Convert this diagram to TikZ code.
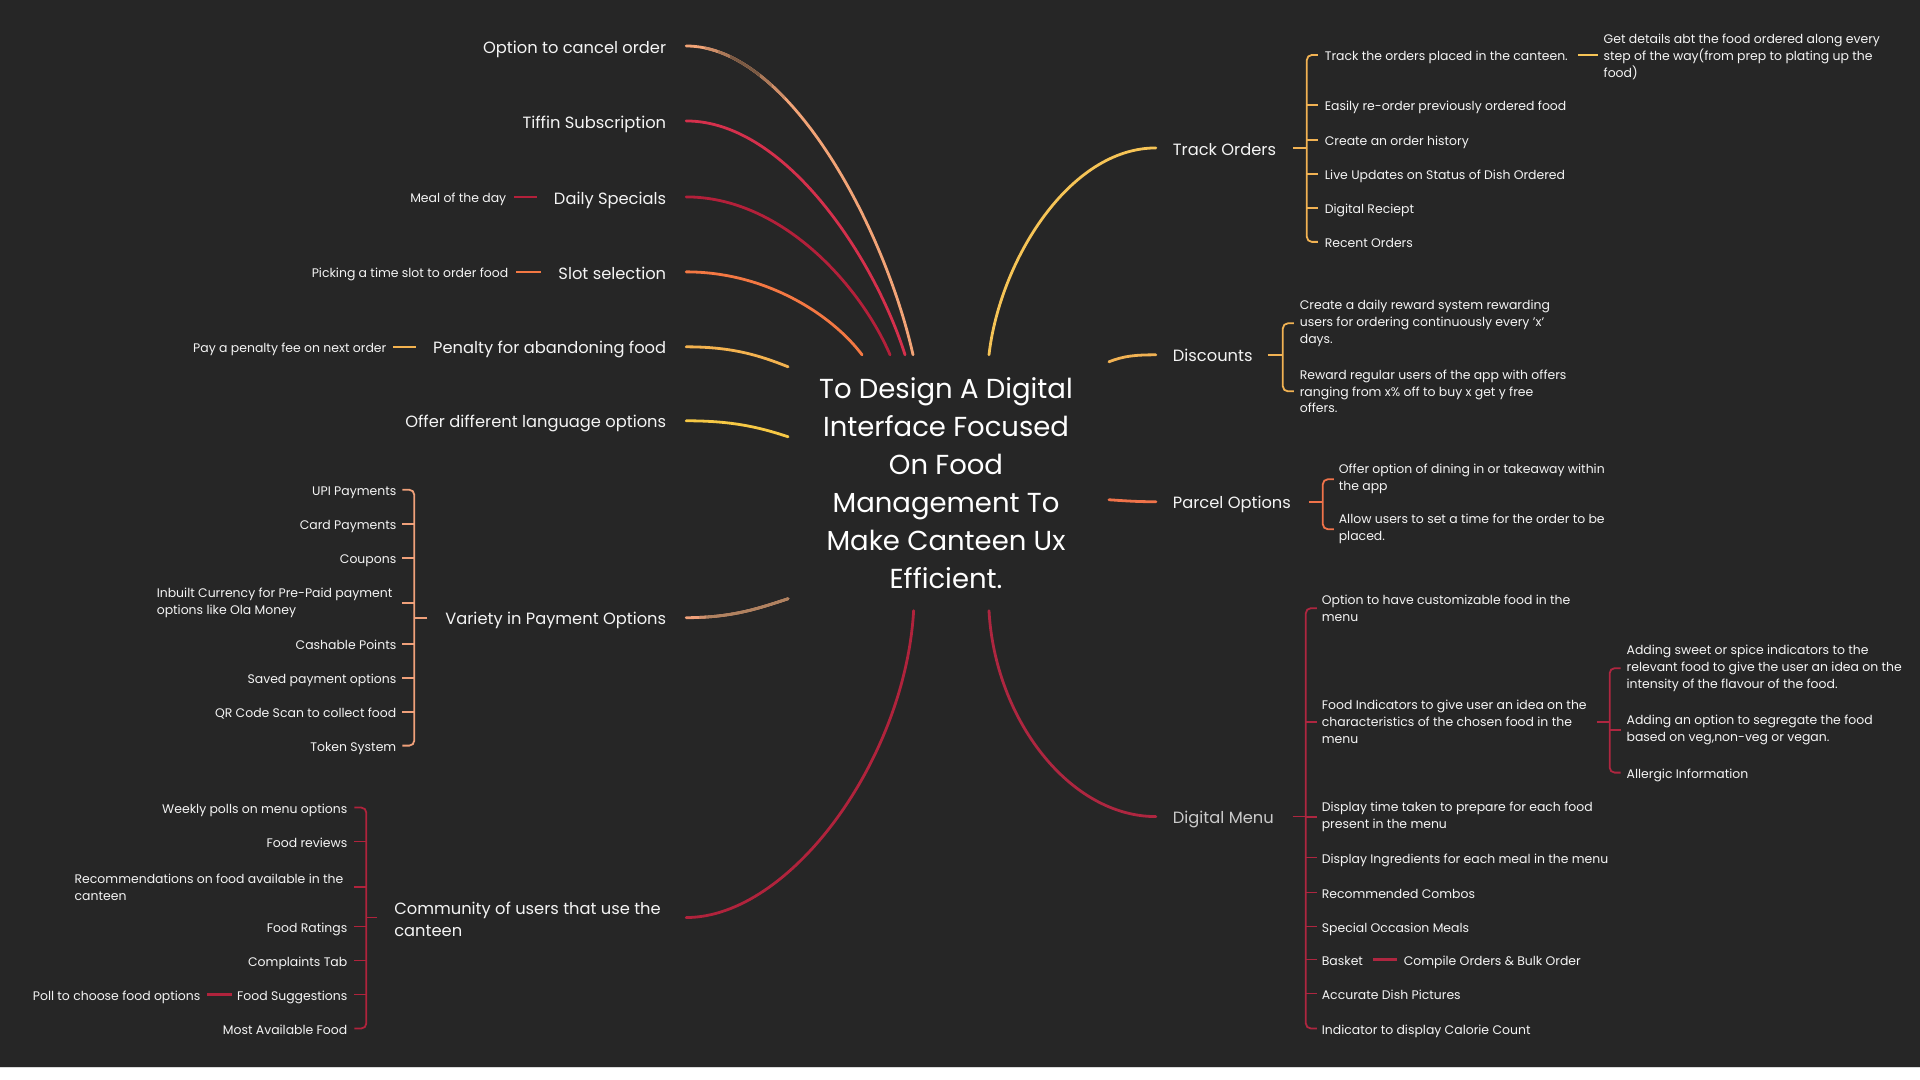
\documentclass[tikz,border=0pt]{standalone}
\usepackage{fontspec}
\setmainfont{Poppins}
\usetikzlibrary{calc}
\definecolor{bg}{HTML}{262626}
\definecolor{txt}{HTML}{F4F4F4}
\definecolor{txtgrey}{HTML}{CACACA}
\definecolor{cCancel}{HTML}{F2A477}
\definecolor{cCancelDark}{HTML}{7A5A44}
\definecolor{cTiffin}{HTML}{D5304C}
\definecolor{cDaily}{HTML}{B3203A}
\definecolor{cSlot}{HTML}{F47843}
\definecolor{cPen}{HTML}{F3B24F}
\definecolor{cLang}{HTML}{F6C845}
\definecolor{cVar}{HTML}{EFA07A}
\definecolor{cVarDark}{HTML}{B08260}
\definecolor{cComm}{HTML}{B0233C}
\definecolor{cTrack}{HTML}{F6C456}
\definecolor{cDisc}{HTML}{F1B253}
\definecolor{cParcel}{HTML}{F0734A}
\definecolor{cMenu}{HTML}{AE2640}
\begin{document}
\begin{tikzpicture}[x=1pt,y=-1pt,
  every node/.style={inner sep=0pt, outer sep=0pt, text=txt},
  mainT/.style={font=\fontsize{16.3}{22}\selectfont, text height=15.5pt, text depth=1.2pt},
  mainML/.style={font=\fontsize{16.3}{22}\selectfont, align=left, yshift=-1.5pt},
  subT/.style={font=\fontsize{12.45}{17}\selectfont, text height=12pt, text depth=0pt},
  subML/.style={font=\fontsize{12.45}{17}\selectfont, align=left, yshift=-2.5pt},
  title/.style={font=\fontsize{27.5}{38}\selectfont, align=center, text=white, minimum width=322pt, minimum height=256pt},
  conn/.style={line width=2.8pt, line cap=round},
  br/.style={line width=1.8pt, rounded corners=5pt},
  brt/.style={line width=1.8pt},
  subln/.style={line width=2.6pt}]

\fill[bg] (0,0) rectangle (1920,1068);
\fill[white] (0,1068) rectangle (1920,1080);
\draw[black!15, line width=1pt] (0,1068.5) -- (1920,1068.5);
\useasboundingbox (0,0) rectangle (1920,1080);

% centre
\node[title] (C) at (946,483) {};
\node[title, minimum width=0pt, minimum height=0pt, yshift=-0.5pt] (Ct) at (C.center) {To Design A Digital\\Interface Focused\\On Food\\Management To\\Make Canteen Ux\\Efficient.};

% left main branches
\node[mainT, anchor=east] (L1) at (666,46) {Option to cancel order};
\node[mainT, anchor=east] (L2) at (666,121) {Tiffin Subscription};
\node[mainT, anchor=east] (L3) at (666,197) {Daily Specials};
\node[mainT, anchor=east] (L4) at (666,272) {Slot selection};
\node[mainT, anchor=east] (L5) at (666,347) {Penalty for abandoning food};
\node[mainT, anchor=east] (L6) at (666,421) {Offer different language options};
\node[mainT, anchor=east] (L7) at (666,618) {Variety in Payment Options};
\node[mainML, anchor=west] (L8) at (394,918) {Community of users that use the\\canteen};

\newcommand\cancelcurve{($(L1.east)+(20,0)$) .. controls +(104,0) and +(-28,-125) .. ($(C.north)+(-33,0)$)}
\newcommand\varietycurve{($(L7.east)+(20,0)$) .. controls +(45,0) and +(-30,10) .. ($(C.west)+(3,116)$)}

\draw[conn, cCancel] \cancelcurve;
\foreach \a/\b/\p in {705/718/30, 718/730/60, 730/760/100, 760/772/60, 772/785/30}{
  \begin{scope}\clip (\a,0) rectangle (\b,400); \draw[conn, cCancelDark!\p!cCancel] \cancelcurve; \end{scope}}
\draw[conn, cTiffin] ($(L2.east)+(20,0)$) .. controls +(100,0) and +(-30,-95) .. ($(C.north)+(-41,0)$);
\draw[conn, cDaily] ($(L3.east)+(20,0)$) .. controls +(95,0) and +(-30,-70) .. ($(C.north)+(-56,0)$);
\draw[conn, cSlot] ($(L4.east)+(20,0)$) .. controls +(80,0) and +(-30,-40) .. ($(C.north)+(-84,0)$);
\draw[conn, cPen] ($(L5.east)+(20,0)$) .. controls +(45,0) and +(-30,-12) .. ($(C.west)+(3,-116)$);
\draw[conn, cLang] ($(L6.east)+(20,0)$) .. controls +(45,0) and +(-30,-10) .. ($(C.west)+(3,-46)$);
\draw[conn, cVar] \varietycurve;
\foreach \a/\b/\p in {699/706/50, 706/800/100}{
  \begin{scope}\clip (\a,560) rectangle (\b,640); \draw[conn, cVarDark!\p!cVar] \varietycurve; \end{scope}}
\draw[conn, cComm] ($(L8.west)+(292,-1.5)$) .. controls +(104,0) and +(-8.6,149) .. ($(C.south)+(-32.4,0)$);

% left sub items
\node[subT, anchor=east] (S3) at (506,197) {Meal of the day};
\node[subT, anchor=east] (S4) at (508,272) {Picking a time slot to order food};
\node[subT, anchor=east] (S5) at (386,347) {Pay a penalty fee on next order};
\draw[subln, cDaily] ($(S3.east)+(8,0)$) -- ($(L3.west)+(-17,0)$);
\draw[subln, cSlot] ($(S4.east)+(8,0)$) -- ($(L4.west)+(-17,0)$);
\draw[subln, cPen] ($(S5.east)+(7,0)$) -- ($(L5.west)+(-17,0)$);

% payment options
\coordinate (bV) at (414,0);
\node[subT, anchor=east] (V1) at (396,490) {UPI Payments};
\node[subT, anchor=east] (V2) at (396,524) {Card Payments};
\node[subT, anchor=east] (V3) at (396,558) {Coupons};
\node[subML, anchor=east] (V4) at (392,601) {Inbuilt Currency for Pre-Paid payment\\options like Ola Money};
\node[subT, anchor=east] (V5) at (396,644) {Cashable Points};
\node[subT, anchor=east] (V6) at (396,678) {Saved payment options};
\node[subT, anchor=east] (V7) at (396,712) {QR Code Scan to collect food};
\node[subT, anchor=east] (V8) at (396,746) {Token System};
\draw[br, cVar] ($(bV |- V1.east)+(-12,0)$) -- (bV |- V1.east) -- (bV |- V8.east) -- ($(bV |- V8.east)+(-12,0)$);
\foreach \n in {V2,V3,V4,V5,V6,V7} \draw[brt, cVar] (bV |- \n.east) -- ($(bV |- \n.east)+(-12,0)$);
\draw[brt, cVar] ($(L7.west)+(-18,0)$) -- (bV |- L7.west);

% community
\coordinate (bK) at (366,0);
\node[subT, anchor=east] (K1) at (347,808) {Weekly polls on menu options};
\node[subT, anchor=east] (K2) at (347,842) {Food reviews};
\node[subML, anchor=east] (K3) at (343,885) {Recommendations on food available in the\\canteen};
\node[subT, anchor=east] (K4) at (347,927) {Food Ratings};
\node[subT, anchor=east] (K5) at (347,961) {Complaints Tab};
\node[subT, anchor=east] (K6) at (347,995) {Food Suggestions};
\node[subT, anchor=east] (K7) at (347,1029) {Most Available Food};
\node[subT, anchor=east] (K6a) at (200,995) {Poll to choose food options};
\draw[br, cComm] ($(bK |- K1.east)+(-12,0)$) -- (bK |- K1.east) -- (bK |- K7.east) -- ($(bK |- K7.east)+(-12,0)$);
\foreach \n in {K2,K3,K4,K5,K6} \draw[brt, cComm] (bK |- \n.east) -- ($(bK |- \n.east)+(-12,0)$);
\draw[brt, cComm] ($(L8.west)+(-17,-1.5)$) -- ($(bK |- L8.west)+(0,-1.5)$);
\draw[subln, cComm] ($(K6a.east)+(7,0)$) -- ($(K6.west)+(-5,0)$);

% right main branches
\node[mainT, anchor=west] (R1) at (1173,148) {Track Orders};
\node[mainT, anchor=west] (R2) at (1173,355) {Discounts};
\node[mainT, anchor=west] (R3) at (1173,502) {Parcel Options};
\node[mainT, anchor=west, text=txtgrey] (R4) at (1173,817) {Digital Menu};

\draw[conn, cTrack] ($(C.north)+(43,0)$) .. controls +(11,-95) and +(-86,0) .. ($(R1.west)+(-17,0)$);
\draw[conn, cDisc] ($(C.east)+(2,-121)$) .. controls +(15,-6) and +(-20,0) .. ($(R2.west)+(-17,0)$);
\draw[conn, cParcel] ($(C.east)+(2,17)$) .. controls +(15,1) and +(-20,0) .. ($(R3.west)+(-17,0)$);
\draw[conn, cMenu] ($(C.south)+(43,0)$) .. controls +(6,109) and +(-86,0) .. ($(R4.west)+(-17,0)$);

% track orders
\coordinate (bT) at (1307,0);
\node[subT, anchor=west] (T1) at (1325,55) {Track the orders placed in the canteen.};
\node[subML, anchor=west, yshift=1pt] (T1a) at (1604,55) {Get details abt the food ordered along every\\step of the way(from prep to plating up the\\food)};
\node[subT, anchor=west] (T2) at (1325,105) {Easily re-order previously ordered food};
\node[subT, anchor=west] (T3) at (1325,140) {Create an order history};
\node[subT, anchor=west] (T4) at (1325,174) {Live Updates on Status of Dish Ordered};
\node[subT, anchor=west] (T5) at (1325,208) {Digital Reciept};
\node[subT, anchor=west] (T6) at (1325,242) {Recent Orders};
\draw[br, cDisc] ($(bT |- T1.west)+(11,0)$) -- (bT |- T1.west) -- (bT |- T6.west) -- ($(bT |- T6.west)+(11,0)$);
\foreach \n in {T2,T3,T4,T5} \draw[brt, cDisc] (bT |- \n.west) -- ($(bT |- \n.west)+(11,0)$);
\draw[brt, cDisc] ($(R1.east)+(17,0)$) -- (bT |- R1.east);
\draw[subln, cTrack] ($(T1.east)+(10,0)$) -- ($(T1.east -| T1a.west)+(-6,0)$);

% discounts
\coordinate (bD) at (1283,0);
\node[subML, anchor=west] (D1) at (1300,321) {Create a daily reward system rewarding\\users for ordering continuously every 'x'\\days.};
\node[subML, anchor=west] (D2) at (1300,389) {Reward regular users of the app with offers\\ranging from x\% off to buy x get y free\\offers.};
\draw[br, cDisc] ($(bD |- D1.west)+(11,0)$) -- (bD |- D1.west) -- (bD |- D2.west) -- ($(bD |- D2.west)+(11,0)$);
\draw[brt, cDisc] ($(R2.east)+(15,0)$) -- (bD |- R2.east);

% parcel
\coordinate (bP) at (1323,0);
\node[subML, anchor=west] (P1) at (1339,477) {Offer option of dining in or takeaway within\\the app};
\node[subML, anchor=west] (P2) at (1339,527) {Allow users to set a time for the order to be\\placed.};
\draw[br, cParcel] ($(bP |- P1.west)+(11,0)$) -- (bP |- P1.west) -- (bP |- P2.west) -- ($(bP |- P2.west)+(11,0)$);
\draw[brt, cParcel] ($(R3.east)+(18,0)$) -- (bP |- R3.east);

% digital menu
\coordinate (bM) at (1306,0);
\node[subML, anchor=west] (M1) at (1322,606) {Option to have customizable food in the\\menu};
\node[subML, anchor=west] (M2) at (1322,720) {Food Indicators to give user an idea on the\\characteristics of the chosen food in the\\menu};
\node[subML, anchor=west] (M3) at (1322,815) {Display time taken to prepare for each food\\present in the menu};
\node[subT, anchor=west] (M4) at (1322,858) {Display Ingredients for each meal in the menu};
\node[subT, anchor=west] (M5) at (1322,893) {Recommended Combos};
\node[subT, anchor=west] (M6) at (1322,927) {Special Occasion Meals};
\node[subT, anchor=west] (M7) at (1322,960) {Basket};
\node[subT, anchor=west] (M7a) at (1404,960) {Compile Orders \& Bulk Order};
\node[subT, anchor=west] (M8) at (1322,994) {Accurate Dish Pictures};
\node[subT, anchor=west] (M9) at (1322,1029) {Indicator to display Calorie Count};
\draw[br, cMenu] ($(bM |- M1.west)+(11,0)$) -- (bM |- M1.west) -- (bM |- M9.west) -- ($(bM |- M9.west)+(11,0)$);
\foreach \n in {M2,M3,M4,M5,M6,M7,M8} \draw[brt, cMenu] (bM |- \n.west) -- ($(bM |- \n.west)+(11,0)$);
\draw[brt, cMenu] ($(R4.east)+(19,0)$) -- (bM |- R4.east);
\draw[subln, cMenu] ($(M7.east)+(10,0)$) -- ($(M7a.west)+(-7,0)$);

% food indicators
\coordinate (bF) at (1610,0);
\node[subML, anchor=west] (F1) at (1627,666) {Adding sweet or spice indicators to the\\relevant food to give the user an idea on the\\intensity of the flavour of the food.};
\node[subML, anchor=west] (F2) at (1627,728) {Adding an option to segregate the food\\based on veg,non-veg or vegan.};
\node[subT, anchor=west] (F3) at (1627,773) {Allergic Information};
\draw[br, cMenu] ($(bF |- F1.west)+(11,0)$) -- (bF |- F1.west) -- (bF |- F3.west) -- ($(bF |- F3.west)+(11,0)$);
\draw[brt, cMenu] (bF |- F2.west) -- ($(bF |- F2.west)+(11,0)$);
\draw[brt, cMenu] ($(M2.east)+(10,0)$) -- (bF |- M2.east);
\end{tikzpicture}
\end{document}
